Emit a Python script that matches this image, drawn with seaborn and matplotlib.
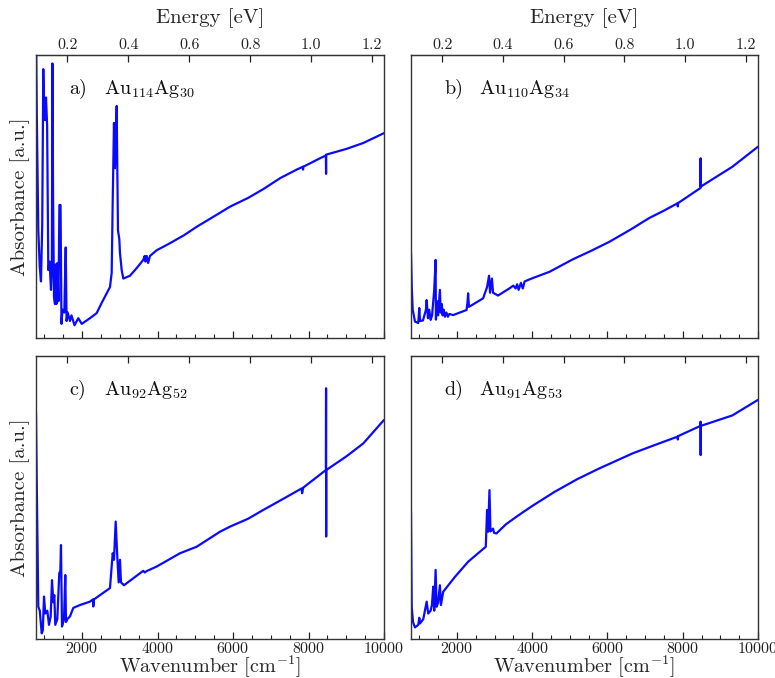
import numpy as np
import pandas as pd
import matplotlib
matplotlib.use("Agg")
import matplotlib.pyplot as plt
import seaborn as sns
from matplotlib.ticker import MultipleLocator, NullFormatter, NullLocator

sns.set_style("ticks")
plt.rcParams["font.family"] = ["cmr10", "DejaVu Serif"]
plt.rcParams["mathtext.fontset"] = "cm"
plt.rcParams["axes.formatter.use_mathtext"] = True
plt.rcParams["axes.unicode_minus"] = False

# ---------------- data (wavenumber [cm^-1], absorbance [a.u.]) ----------------
wn_a = [780, 800, 841, 880, 912, 945, 973, 995, 1018, 1045, 1075, 1106, 1140, 1177, 1200,
        1215, 1232, 1257, 1283, 1300, 1320, 1345, 1375, 1400, 1430, 1455, 1480, 1530, 1567,
        1590, 1620, 1680, 1720, 1800, 1900, 1991, 2210, 2388, 2520, 2740, 2785, 2812, 2846,
        2870, 2899, 2918, 2934, 2952, 2987, 3005, 3050, 3093, 3270, 3447, 3622, 3660, 3680,
        3712, 3750, 3800, 3977, 4330, 4700, 5037, 5500, 5919, 6400, 6801, 7250, 7686, 7850,
        7855, 7860, 8303, 8460, 8465, 8470, 9000, 9450, 10000]
ab_a = [1.10, 0.80, 0.38, 0.25, 0.20, 0.40, 0.95, 0.80, 0.77, 0.85, 0.75, 0.24, 0.27, 0.17, 0.24,
        0.97, 0.50, 0.145, 0.12, 0.26, 0.12, 0.265, 0.13, 0.47, 0.47, 0.05, 0.10, 0.09, 0.32,
        0.06, 0.09, 0.06, 0.08, 0.045, 0.07, 0.05, 0.07, 0.088, 0.124, 0.18, 0.23, 0.48, 0.76,
        0.60, 0.73, 0.82, 0.60, 0.38, 0.35, 0.30, 0.24, 0.21, 0.22, 0.247, 0.276, 0.29, 0.27,
        0.29, 0.265, 0.29, 0.31, 0.335, 0.363, 0.393, 0.43, 0.464, 0.495, 0.526, 0.565, 0.595, 0.605,
        0.595, 0.605, 0.635, 0.645, 0.58, 0.648, 0.668, 0.689, 0.724]

wn_b = [780, 800, 825, 886, 973, 1000, 1020, 1098, 1177, 1196, 1230, 1265, 1302, 1340, 1397,
        1434, 1442, 1477, 1500, 1548, 1570, 1600, 1620, 1650, 1680, 1720, 1760, 1800, 1900,
        2256, 2280, 2298, 2320, 2695, 2801, 2854, 2880, 2930, 2960, 3093, 3403, 3500, 3560,
        3600, 3640, 3700, 3750, 3800, 4020, 4462, 5079, 5550, 6051, 6600, 7111, 7500, 7861,
        7870, 7880, 8470, 8475, 8480, 9318, 10000]
ab_b = [0.30, 0.18, 0.10, 0.058, 0.053, 0.106, 0.06, 0.062, 0.10, 0.134, 0.07, 0.10, 0.064, 0.08, 0.17,
        0.276, 0.065, 0.13, 0.08, 0.17, 0.09, 0.12, 0.08, 0.10, 0.075, 0.09, 0.075, 0.085, 0.081,
        0.099, 0.125, 0.158, 0.11, 0.14, 0.18, 0.22, 0.16, 0.21, 0.16, 0.15, 0.176, 0.185, 0.175,
        0.19, 0.17, 0.195, 0.175, 0.20, 0.212, 0.234, 0.278, 0.307, 0.34, 0.382, 0.424, 0.45, 0.476,
        0.465, 0.477, 0.53, 0.635, 0.535, 0.605, 0.676]

wn_c = [780, 800, 841, 880, 931, 960, 992, 1026, 1080, 1124, 1169, 1204, 1238, 1265, 1291,
        1344, 1397, 1424, 1442, 1469, 1522, 1556, 1575, 1609, 1681, 1768, 1946, 2210, 2290,
        2298, 2316, 2369, 2740, 2812, 2846, 2891, 2934, 2970, 3005, 3032, 3111, 3622, 3660,
        3712, 3977, 4595, 5037, 5654, 5919, 6400, 6801, 7300, 7818, 7830, 7861, 8460, 8465,
        8468, 8470, 9000, 9450, 10000]
ab_c = [0.80, 0.55, 0.114, 0.10, 0.02, 0.03, 0.15, 0.09, 0.10, 0.05, 0.08, 0.208, 0.13, 0.155, 0.05,
        0.07, 0.233, 0.24, 0.332, 0.044, 0.07, 0.226, 0.06, 0.07, 0.08, 0.11, 0.12, 0.132, 0.14,
        0.115, 0.14, 0.145, 0.18, 0.303, 0.28, 0.415, 0.29, 0.20, 0.28, 0.20, 0.19, 0.241, 0.235,
        0.24, 0.256, 0.303, 0.326, 0.379, 0.397, 0.425, 0.456, 0.493, 0.532, 0.515, 0.535, 0.597, 0.886,
        0.362, 0.597, 0.645, 0.691, 0.774]

wn_d = [780, 790, 799, 833, 886, 973, 1000, 1020, 1106, 1196, 1238, 1302, 1336, 1371, 1397,
        1434, 1461, 1503, 1548, 1575, 1636, 1950, 2298, 2767, 2801, 2828, 2865, 2891, 2960, 2987,
        3050, 3300, 3580, 4000, 4595, 5200, 5787, 6670, 7250, 7861, 7870, 7880, 8470, 8473,
        8476, 8480, 9318, 10000]
ab_d = [0.45, 0.25, 0.114, 0.06, 0.041, 0.05, 0.075, 0.055, 0.07, 0.132, 0.09, 0.10, 0.12, 0.185, 0.10,
        0.244, 0.114, 0.13, 0.19, 0.12, 0.167, 0.22, 0.273, 0.326, 0.456, 0.379, 0.526, 0.38, 0.39, 0.375,
        0.373, 0.405, 0.432, 0.47, 0.52, 0.565, 0.603, 0.656, 0.685, 0.715, 0.705, 0.717, 0.753, 0.768,
        0.65, 0.753, 0.79, 0.845]

panel_letters = ["a)", "b)", "c)", "d)"]
panel_names = [r"Au$_{114}$Ag$_{30}$", r"Au$_{110}$Ag$_{34}$",
               r"Au$_{92}$Ag$_{52}$", r"Au$_{91}$Ag$_{53}$"]
energy_ticks = [0.2, 0.4, 0.6, 0.8, 1.0, 1.2]
wn_ticks = [2000, 4000, 6000, 8000, 10000]

series = [(wn_a, ab_a), (wn_b, ab_b), (wn_c, ab_c), (wn_d, ab_d)]

CM_PER_EV = 8065.54


def wn2ev(w):
    return np.asarray(w, dtype=float) / CM_PER_EV


def ev2wn(e):
    return np.asarray(e, dtype=float) * CM_PER_EV


W, H = 775, 678
fig = plt.figure(figsize=(W / 100, H / 100), dpi=100)

boxes = [(36, 55, 384, 338), (411, 55, 758, 338),
         (36, 356, 384, 639), (411, 356, 758, 639)]

line_color = "#0a0aff"
for i, ((x0, y0, x1, y1), (wn, ab)) in enumerate(zip(boxes, series)):
    ax = fig.add_axes([x0 / W, 1 - y1 / H, (x1 - x0) / W, (y1 - y0) / H])
    df = pd.DataFrame({"wn": wn, "ab": ab})
    sns.lineplot(data=df, x="wn", y="ab", ax=ax, color=line_color, lw=1.6,
                 sort=False, estimator=None)
    ax.set_xlim(780, 10000)
    ax.set_ylim(0, 1)
    ax.yaxis.set_major_locator(NullLocator())
    ax.set_ylabel("")
    ax.set_xlabel("")
    ax.set_xticks(wn_ticks)
    ax.xaxis.set_minor_locator(MultipleLocator(500))
    ax.tick_params(axis="x", which="major", direction="in", length=5, width=0.9,
                   labelsize=11.5, pad=1.5, colors="#222222", labelcolor="#222222")
    ax.tick_params(axis="x", which="minor", direction="in", length=3, width=0.8,
                   colors="#222222")
    for sp in ax.spines.values():
        sp.set_color("#333333")
        sp.set_linewidth(1.0)
        sp.set_visible(True)

    sec = ax.secondary_xaxis("top", functions=(wn2ev, ev2wn))
    sec.set_xticks(energy_ticks)
    sec.tick_params(axis="x", which="major", direction="in", length=5, width=0.9,
                    labelsize=11.5, pad=2, colors="#222222", labelcolor="#222222")
    sec.spines["top"].set_color("#333333")

    top_row = i < 2
    left_col = i % 2 == 0
    if top_row:
        ax.xaxis.set_major_formatter(NullFormatter())
        sec.set_xticklabels([f"{t:.1f}" for t in energy_ticks])
        sec.xaxis.set_label_position("top")
        sec.set_xlabel("Energy [eV]", fontsize=15)
        sec.xaxis.labelpad = 11
    else:
        sec.set_xticklabels([])
        ax.set_xlabel(r"Wavenumber [cm$^{-1}$]", fontsize=14.6, labelpad=-1.5)
    if left_col:
        ax.set_ylabel("Absorbance [a.u.]", fontsize=15, labelpad=4)

    ax.text(0.095, 0.88, panel_letters[i], transform=ax.transAxes,
            fontsize=14.5, va="center", ha="left", color="#111111")
    ax.text(0.195, 0.88, panel_names[i], transform=ax.transAxes,
            fontsize=14.5, va="center", ha="left", color="#111111")

fig.savefig("out.png", dpi=100, facecolor="white")
